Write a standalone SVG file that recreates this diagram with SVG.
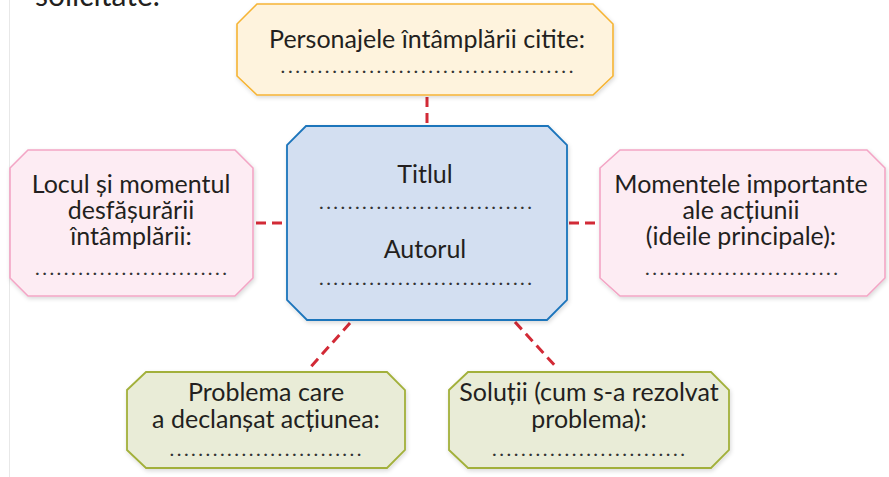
<svg xmlns="http://www.w3.org/2000/svg" width="889" height="477" viewBox="0 0 889 477">
<defs>
<filter id="sh" x="-10%" y="-10%" width="120%" height="130%">
<feDropShadow dx="1" dy="2" stdDeviation="2" flood-color="#000" flood-opacity="0.15"/>
</filter>
</defs>
<style>
text{font-family:Lato,"Open Sans","Noto Sans",sans-serif;font-size:25px;fill:#231f20;text-anchor:middle}
.dots{font-size:20px;fill:#333}
.yel{fill:#fef3dd;stroke:#f6b434;stroke-width:1.6}
.blu{fill:#d3dff1;stroke:#1b74bb;stroke-width:1.8}
.pnk{fill:#fdecf3;stroke:#f3a5c5;stroke-width:1.6}
.grn{fill:#e9ecd7;stroke:#a2b03a;stroke-width:1.8}
.con line{stroke:#d22a36;stroke-width:3;stroke-dasharray:10 6;fill:none}
</style>
<rect x="0" y="0" width="889" height="477" fill="#fff"/>
<line x1="9.5" y1="0" x2="9.5" y2="477" stroke="#e8e8e8" stroke-width="1"/>
<text x="35" y="6" style="text-anchor:start;font-size:30px">solicitate.</text>

<g class="con" id="connectors">
<line x1="427" y1="97" x2="427" y2="126"/>
<line x1="256" y1="223" x2="287" y2="223"/>
<line x1="569" y1="223" x2="600" y2="223"/>
<line x1="350" y1="323" x2="308" y2="370"/>
<line x1="515" y1="322" x2="558" y2="369"/>
</g>

<g id="personaje">
<path class="yel" filter="url(#sh)" d="M257,4 H593 L613,24 V76 L593,95 H257 L237,76 V24 Z"/>
<text x="427" y="48">Personajele întâmplării citite:</text>
<text class="dots" x="427" y="73" textLength="293" lengthAdjust="spacing">........................................</text>
</g>

<g id="centru">
<path class="blu" filter="url(#sh)" d="M306,126 H548 L567,145 V300 L547,320 H307 L287,300 V145 Z"/>
<text x="425" y="183">Titlul</text>
<text class="dots" x="425.5" y="209" textLength="213" lengthAdjust="spacing">..............................</text>
<text x="425" y="258">Autorul</text>
<text class="dots" x="425.5" y="285" textLength="213" lengthAdjust="spacing">..............................</text>
</g>

<g id="locul">
<path class="pnk" filter="url(#sh)" d="M28,150 H235 L253,168 V278 L235,296 H28 L10,278 V168 Z"/>
<text x="131" y="193"><tspan x="131">Locul și momentul</tspan><tspan x="131" dy="26">desfășurării</tspan><tspan x="131" dy="26">întâmplării:</tspan></text>
<text class="dots" x="131" y="275" textLength="192" lengthAdjust="spacing">...........................</text>
</g>

<g id="momentele">
<path class="pnk" filter="url(#sh)" d="M620,150 H867 L885,168 V278 L867,296 H620 L600,278 V168 Z"/>
<text x="741" y="193"><tspan x="741">Momentele importante</tspan><tspan x="741" dy="26">ale acțiunii</tspan><tspan x="741" dy="26">(ideile principale):</tspan></text>
<text class="dots" x="741.5" y="275" textLength="193" lengthAdjust="spacing">...........................</text>
</g>

<g id="problema">
<path class="grn" filter="url(#sh)" d="M146,372 H387 L405,390 V450 L387,468 H146 L127,450 V390 Z"/>
<text x="266" y="401"><tspan x="266">Problema care</tspan><tspan x="266" dy="27">a declanșat acțiunea:</tspan></text>
<text class="dots" x="265.5" y="456" textLength="192" lengthAdjust="spacing">...........................</text>
</g>

<g id="solutii">
<path class="grn" filter="url(#sh)" d="M468,372 H711 L729,390 V450 L711,468 H468 L449,450 V390 Z"/>
<text x="589" y="401"><tspan x="589">Soluții (cum s-a rezolvat</tspan><tspan x="589" dy="27">problema):</tspan></text>
<text class="dots" x="588.5" y="456" textLength="193" lengthAdjust="spacing">...........................</text>
</g>
</svg>
